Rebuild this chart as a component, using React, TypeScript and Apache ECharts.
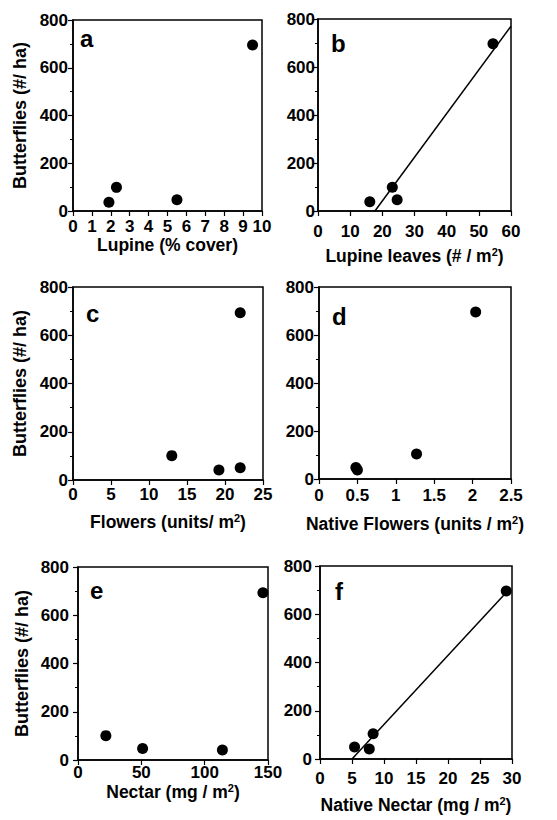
import React, { useEffect, useRef } from "react";
import * as echarts from "echarts";

// Butterflies (#/ha) vs. habitat variables
const lupineCover = [1.9, 2.3, 5.5, 9.5];
const butterfliesA = [37, 99, 47, 695];

const lupineLeaves = [16.1, 23.1, 24.6, 54.4];
const butterfliesB = [39, 99, 47, 697];
const fitB = [[17.7, 0], [60, 770]];

const flowers = [13.0, 19.2, 22.0, 22.0];
const butterfliesC = [101, 41, 51, 693];

const nativeFlowers = [0.48, 0.5, 1.27, 2.04];
const butterfliesD = [48, 38, 104, 696];

const nectar = [22, 51, 114, 146];
const butterfliesE = [101, 48, 41, 693];

const nativeNectar = [5.4, 7.7, 8.3, 29.1];
const butterfliesF = [50, 41, 105, 696];
const fitF = [[5.0, 0], [29.1, 690]];

const panelLetters = ["a", "b", "c", "d", "e", "f"];
const yTitle = "Butterflies (#/ ha)";

const FONT = "Liberation Sans, Arial, Helvetica, sans-serif";

const pair = (xs: number[], ys: number[]) => xs.map((x, i) => [x, ys[i]]);

export default function App() {
  const ref = useRef<HTMLDivElement>(null);
  useEffect(() => {
    if (!ref.current) return;
    const chart = echarts.init(ref.current, null, { renderer: "svg" });

    const grids = [
      { left: 73, top: 20, width: 189, height: 191 },
      { left: 318, top: 19, width: 193, height: 192 },
      { left: 73, top: 287, width: 190, height: 193 },
      { left: 319, top: 287, width: 192, height: 192 },
      { left: 78, top: 567, width: 190, height: 193 },
      { left: 320, top: 566, width: 192, height: 193 },
    ];

    const xDefs = [
      { min: 0, max: 10, interval: 1, name: "{n|Lupine (% cover)}", gap: 21, margin: 7 },
      { min: 0, max: 60, interval: 10, name: "{n|Lupine leaves (# / m}{s|2}{n|)}", gap: 35, margin: 12 },
      { min: 0, max: 25, interval: 5, name: "{n|Flowers (units/ m}{s|2}{n|)}", gap: 32, margin: 6 },
      { min: 0, max: 2.5, interval: 0.5, name: "{n|Native Flowers (units / m}{s|2}{n|)}", gap: 35, margin: 8 },
      { min: 0, max: 150, interval: 50, name: "{n|Nectar (mg / m}{s|2}{n|)}", gap: 22, margin: 4 },
      { min: 0, max: 30, interval: 5, name: "{n|Native Nectar (mg / m}{s|2}{n|)}", gap: 36, margin: 11 },
    ];
    const yMargins = [5, 3, 5, 5, 9, 8];

    const rich = {
      n: { fontFamily: FONT, fontWeight: "bold", fontSize: 17.5, color: "#000" },
      s: { fontFamily: FONT, fontWeight: "bold", fontSize: 11, color: "#000", padding: [0, 0, 9, 0] },
    };

    const axisLine = { show: true, onZero: false, lineStyle: { color: "#000", width: 1.5 } };

    const xAxis = xDefs.map((d, i) => ({
      type: "value",
      gridIndex: i,
      min: d.min,
      max: d.max,
      interval: d.interval,
      name: d.name,
      nameLocation: "middle",
      nameGap: d.gap,
      nameTextStyle: { rich },
      axisLine,
      axisTick: { show: true, inside: false, length: 5, lineStyle: { color: "#000", width: 1.2 } },
      splitLine: { show: false },
      axisLabel: {
        margin: d.margin,
        color: "#000",
        fontFamily: FONT,
        fontWeight: "bold",
        fontSize: 17,
      },
    }));

    const yAxis = grids.map((_, i) => ({
      type: "value",
      gridIndex: i,
      min: 0,
      max: 800,
      interval: 200,
      name: i % 2 === 0 ? yTitle : "",
      nameLocation: "middle",
      nameGap: i === 4 ? 47 : 44,
      nameTextStyle: { fontFamily: FONT, fontWeight: "bold", fontSize: 18, color: "#000" },
      axisLine,
      axisTick: { show: true, inside: false, length: 5, lineStyle: { color: "#000", width: 1.2 } },
      minorTick: { show: true, splitNumber: 2, length: 3, lineStyle: { color: "#000", width: 1 } },
      splitLine: { show: false },
      minorSplitLine: { show: false },
      axisLabel: {
        margin: yMargins[i],
        color: "#000",
        fontFamily: FONT,
        fontWeight: "bold",
        fontSize: 17,
      },
    }));

    const datasets = [
      pair(lupineCover, butterfliesA),
      pair(lupineLeaves, butterfliesB),
      pair(flowers, butterfliesC),
      pair(nativeFlowers, butterfliesD),
      pair(nectar, butterfliesE),
      pair(nativeNectar, butterfliesF),
    ];

    const series: any[] = datasets.map((data, i) => ({
      type: "scatter",
      xAxisIndex: i,
      yAxisIndex: i,
      data,
      symbol: "circle",
      symbolSize: 11,
      itemStyle: { color: "#000", opacity: 1 },
      clip: false,
      z: 3,
    }));
    [[1, fitB], [5, fitF]].forEach(([idx, d]: any) => {
      series.push({
        type: "line",
        xAxisIndex: idx,
        yAxisIndex: idx,
        data: d,
        symbol: "none",
        lineStyle: { color: "#000", width: 1.5 },
        clip: false,
        z: 2,
      });
    });

    const letterPos = [
      [80, 45],
      [331, 50],
      [86, 320],
      [332, 323],
      [90, 597],
      [335, 598],
    ];

    chart.setOption({
      animation: false,
      backgroundColor: "#fff",
      grid: grids.map((g) => ({
        ...g,
        show: true,
        borderColor: "#000",
        borderWidth: 1.5,
        backgroundColor: "transparent",
        containLabel: false,
      })),
      xAxis,
      yAxis,
      series,
      graphic: panelLetters.map((t, i) => ({
        type: "text",
        left: letterPos[i][0],
        top: letterPos[i][1] - 19,
        style: {
          text: t,
          fontFamily: FONT,
          fontWeight: "bold",
          fontSize: 24,
          fill: "#000",
        },
      })),
    });
    return () => chart.dispose();
  }, []);

  return (
    <div
      ref={ref}
      style={{ position: "fixed", left: 0, top: 0, width: 557, height: 820, background: "#fff" }}
    />
  );
}
